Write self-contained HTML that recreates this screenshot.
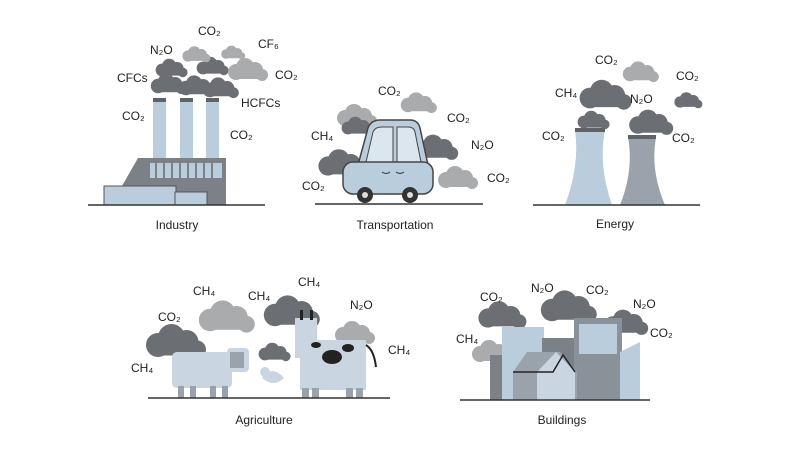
<!DOCTYPE html>
<html><head><meta charset="utf-8"><style>
html,body{margin:0;padding:0;background:#fff}
svg{display:block}
text{font-family:"Liberation Sans",sans-serif;font-size:12px;fill:#222}
.l{font-size:12px}
</style></head><body>
<svg width="800" height="450" viewBox="0 0 800 450">
<defs>
<g id="cd"><circle cx="0" cy="0" r="8"/><circle cx="9" cy="-5" r="9"/><circle cx="19" cy="-2" r="8"/><circle cx="26" cy="3" r="6"/><rect x="-6" y="0" width="36" height="7" rx="3"/></g>
</defs>
<!-- INDUSTRY -->
<g fill="#6b6e72">
<use href="#cd" transform="translate(158,86) scale(0.9)"/>
<use href="#cd" transform="translate(162,70) scale(0.8)"/>
<use href="#cd" transform="translate(186,88) scale(0.9)"/>
<use href="#cd" transform="translate(210,90) scale(0.9)"/>
<use href="#cd" transform="translate(203,68) scale(0.8)"/>
</g>
<g fill="#a9abad">
<use href="#cd" transform="translate(188,56) scale(0.7)"/>
<use href="#cd" transform="translate(226,54) scale(0.6)"/>
<use href="#cd" transform="translate(236,72) scale(1)"/>
</g>
<g fill="#b9cddd">
<rect x="153" y="100" width="13" height="58"/><rect x="180" y="100" width="13" height="58"/><rect x="206" y="100" width="13" height="58"/>
</g>
<g fill="#5f6368"><rect x="153" y="98" width="13" height="4"/><rect x="180" y="98" width="13" height="4"/><rect x="206" y="98" width="13" height="4"/></g>
<polygon points="138,158 226,158 226,205 122,205 122,186" fill="#7b8187"/>
<g fill="#b9cddd"><rect x="150" y="163" width="72" height="15"/></g>
<g stroke="#7b8187" stroke-width="2"><line x1="156" y1="163" x2="156" y2="178"/><line x1="164" y1="163" x2="164" y2="178"/><line x1="172" y1="163" x2="172" y2="178"/><line x1="180" y1="163" x2="180" y2="178"/><line x1="188" y1="163" x2="188" y2="178"/><line x1="196" y1="163" x2="196" y2="178"/><line x1="204" y1="163" x2="204" y2="178"/><line x1="212" y1="163" x2="212" y2="178"/></g>
<rect x="104" y="186" width="72" height="19" fill="#b9cddd" stroke="#555" stroke-width="1"/>
<rect x="175" y="192" width="32" height="13" fill="#b9cddd" stroke="#555" stroke-width="1"/>
<line x1="88" y1="205" x2="265" y2="205" stroke="#333" stroke-width="1.5"/>
<text x="198" y="35">CO₂</text><text x="150" y="54">N₂O</text><text x="258" y="48">CF₆</text>
<text x="117" y="82">CFCs</text><text x="275" y="79">CO₂</text><text x="241" y="107">HCFCs</text>
<text x="122" y="120">CO₂</text><text x="230" y="139">CO₂</text>
<text class="l" x="177" y="229" text-anchor="middle">Industry</text>
<!-- TRANSPORT -->
<g fill="#a9abad"><use href="#cd" transform="translate(345,118) scale(1)"/><use href="#cd" transform="translate(408,105) scale(0.9)"/><use href="#cd" transform="translate(446,180) scale(1)"/></g>
<g fill="#6b6e72"><use href="#cd" transform="translate(328,166) scale(1.2)"/><use href="#cd" transform="translate(423,150) scale(1.1)"/><use href="#cd" transform="translate(348,128) scale(0.8)"/></g>
<path d="M358,165 L368,128 Q371,120 380,120 L410,120 Q418,120 420,128 L428,165 Z" fill="#b9cddd" stroke="#444" stroke-width="1.5"/>
<path d="M366,162 L373,132 Q375,127 382,127 L393,127 L393,162 Z" fill="#dbe6ee" stroke="#444"/>
<path d="M397,127 L408,127 Q414,127 415,132 L421,162 L397,162 Z" fill="#dbe6ee" stroke="#444"/>
<rect x="343" y="162" width="90" height="32" rx="10" fill="#b9cddd" stroke="#444" stroke-width="1.5"/>
<path d="M382,172 q4,3 8,0 M396,172 q4,3 8,0" stroke="#333" fill="none"/>
<circle cx="365" cy="195" r="8" fill="#333"/><circle cx="365" cy="195" r="3" fill="#ddd"/>
<circle cx="410" cy="195" r="8" fill="#333"/><circle cx="410" cy="195" r="3" fill="#ddd"/>
<line x1="315" y1="204" x2="483" y2="204" stroke="#333" stroke-width="1.5"/>
<text x="378" y="95">CO₂</text><text x="447" y="122">CO₂</text><text x="311" y="140">CH₄</text>
<text x="471" y="149">N₂O</text><text x="302" y="190">CO₂</text><text x="487" y="182">CO₂</text>
<text class="l" x="395" y="229" text-anchor="middle">Transportation</text>
<!-- ENERGY -->
<g fill="#6b6e72"><use href="#cd" transform="translate(590,98) scale(1.3)"/><use href="#cd" transform="translate(584,122) scale(0.8)"/><use href="#cd" transform="translate(638,125) scale(1.1)"/><use href="#cd" transform="translate(680,102) scale(0.7)"/></g>
<g fill="#a9abad"><use href="#cd" transform="translate(630,74) scale(0.9)"/></g>
<path d="M575,130 L605,130 Q598,165 612,205 L565,205 Q580,165 575,130 Z" fill="#b9cddd"/>
<path d="M628,137 L656,137 Q650,170 665,205 L620,205 Q634,170 628,137 Z" fill="#9aa3ab"/>
<rect x="575" y="128" width="30" height="4" fill="#5f6368"/><rect x="628" y="135" width="28" height="4" fill="#5f6368"/>
<line x1="533" y1="205" x2="700" y2="205" stroke="#333" stroke-width="1.5"/>
<text x="595" y="64">CO₂</text><text x="555" y="97">CH₄</text><text x="676" y="80">CO₂</text>
<text x="630" y="103">N₂O</text><text x="542" y="140">CO₂</text><text x="672" y="142">CO₂</text>
<text class="l" x="615" y="228" text-anchor="middle">Energy</text>
<!-- AGRICULTURE -->
<g fill="#a9abad"><use href="#cd" transform="translate(210,320) scale(1.4)"/><use href="#cd" transform="translate(343,335) scale(1)"/></g>
<g fill="#6b6e72"><use href="#cd" transform="translate(158,345) scale(1.5)"/><use href="#cd" transform="translate(275,315) scale(1.4)"/><use href="#cd" transform="translate(265,354) scale(0.8)"/></g>
<rect x="172" y="352" width="60" height="36" rx="5" fill="#c9d6e1"/>
<rect x="227" y="348" width="22" height="24" rx="4" fill="#c9d6e1"/><rect x="230" y="352" width="14" height="16" fill="#9aa3ab"/>
<g fill="#9aa3ab"><rect x="178" y="386" width="6" height="12"/><rect x="190" y="386" width="6" height="12"/><rect x="210" y="386" width="6" height="12"/><rect x="222" y="386" width="6" height="12"/></g>
<path d="M262,378 q10,-14 22,0 q-10,10 -22,0 Z" fill="#c9d6e1"/><circle cx="265" cy="372" r="5" fill="#c9d6e1"/>
<rect x="300" y="340" width="66" height="50" fill="#c9d6e1"/><rect x="295" y="318" width="22" height="40" fill="#c9d6e1"/>
<rect x="300" y="310" width="3" height="10" fill="#222"/><rect x="310" y="310" width="3" height="10" fill="#222"/>
<ellipse cx="332" cy="357" rx="10" ry="7" fill="#222"/><ellipse cx="316" cy="345" rx="5" ry="3" fill="#222"/><ellipse cx="348" cy="348" rx="6" ry="4" fill="#222"/>
<path d="M366,345 q8,5 10,22" stroke="#222" stroke-width="2" fill="none"/>
<g fill="#9aa3ab"><rect x="302" y="388" width="7" height="10"/><rect x="312" y="388" width="7" height="10"/><rect x="346" y="388" width="7" height="10"/><rect x="356" y="388" width="7" height="10"/></g>
<line x1="148" y1="398" x2="390" y2="398" stroke="#333" stroke-width="1.5"/>
<text x="193" y="295">CH₄</text><text x="298" y="286">CH₄</text><text x="248" y="300">CH₄</text>
<text x="350" y="309">N₂O</text><text x="158" y="321">CO₂</text><text x="131" y="372">CH₄</text><text x="388" y="354">CH₄</text>
<text class="l" x="264" y="424" text-anchor="middle">Agriculture</text>
<!-- BUILDINGS -->
<g fill="#6b6e72"><use href="#cd" transform="translate(488,318) scale(1.2)"/><use href="#cd" transform="translate(552,310) scale(1.4)"/><use href="#cd" transform="translate(613,325) scale(1.1)"/></g>
<g fill="#a9abad"><use href="#cd" transform="translate(480,354) scale(1)"/></g>
<rect x="490" y="355" width="16" height="45" fill="#7b8187"/>
<rect x="502" y="327" width="42" height="73" fill="#b9cddd"/>
<rect x="542" y="338" width="32" height="62" fill="#7b8187"/>
<rect x="574" y="318" width="48" height="82" fill="#8a9299"/>
<g fill="#b9cddd"><rect x="579" y="324" width="38" height="30"/></g>
<path d="M620,352 L640,342 L640,400 L620,400 Z" fill="#b9cddd"/>
<polygon points="513,372 527,352 560,352 577,372 577,400 513,400" fill="#9aa3ab"/>
<polygon points="556,352 575,372 575,400 537,400 537,372" fill="#c9d6e1"/>
<path d="M513,372 L553,372 L563,355 L575,372" stroke="#222" stroke-width="1.5" fill="none"/>
<line x1="460" y1="400" x2="650" y2="400" stroke="#333" stroke-width="1.5"/>
<text x="480" y="301">CO₂</text><text x="531" y="292">N₂O</text><text x="586" y="294">CO₂</text>
<text x="633" y="308">N₂O</text><text x="650" y="337">CO₂</text><text x="456" y="343">CH₄</text>
<text class="l" x="562" y="424" text-anchor="middle">Buildings</text>
</svg>
</body></html>
